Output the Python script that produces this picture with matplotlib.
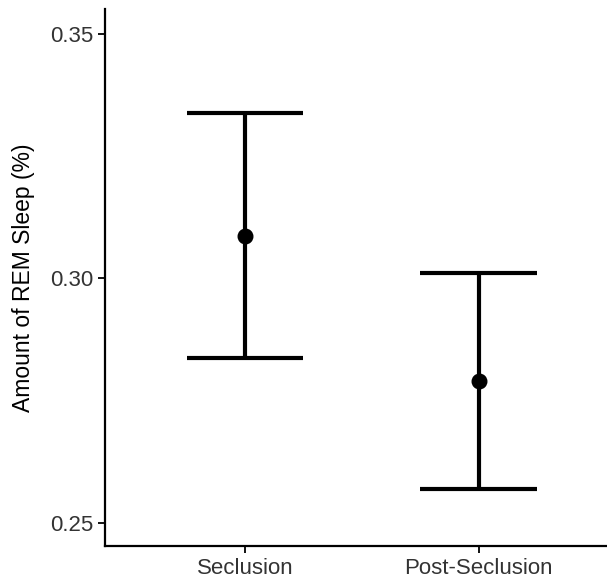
import matplotlib
matplotlib.use("Agg")
import matplotlib.pyplot as plt

groups = ["Seclusion", "Post-Seclusion"]
means = [0.3086, 0.2789]
lower = [0.2836, 0.2568]
upper = [0.3338, 0.3010]

plt.rcParams['font.family'] = ['Liberation Sans', 'DejaVu Sans']

fig = plt.figure(figsize=(6.07, 5.83), dpi=100)
ax = fig.add_axes([0.173, 0.0635, 0.827, 0.9205])

xs = list(range(1, len(groups) + 1))
for x, m, lo, hi in zip(xs, means, lower, upper):
    ax.vlines(x, lo, hi, colors='black', linewidth=3.0, zorder=2)
    ax.hlines([lo, hi], x - 0.25, x + 0.25, colors='black', linewidth=3.0, zorder=2)
ax.scatter(xs, means, s=110, color='black', zorder=3)

ax.set_xlim(0.4, 2.55)
ax.set_ylim(0.2452, 0.355)
ax.set_xticks(xs)
ax.set_xticklabels(groups)
ax.set_yticks([0.25, 0.30, 0.35])
ax.set_yticklabels(["0.25", "0.30", "0.35"])
ax.tick_params(labelsize=16, labelcolor='#333333', length=5, width=1.3, color='black')
ax.set_ylabel("Amount of REM Sleep (%)", fontsize=16.5)
ax.yaxis.set_label_coords(-0.14, 0.5)

for s in ['top', 'right']:
    ax.spines[s].set_visible(False)
for s in ['left', 'bottom']:
    ax.spines[s].set_linewidth(1.6)

fig.savefig("out.png", dpi=100)
